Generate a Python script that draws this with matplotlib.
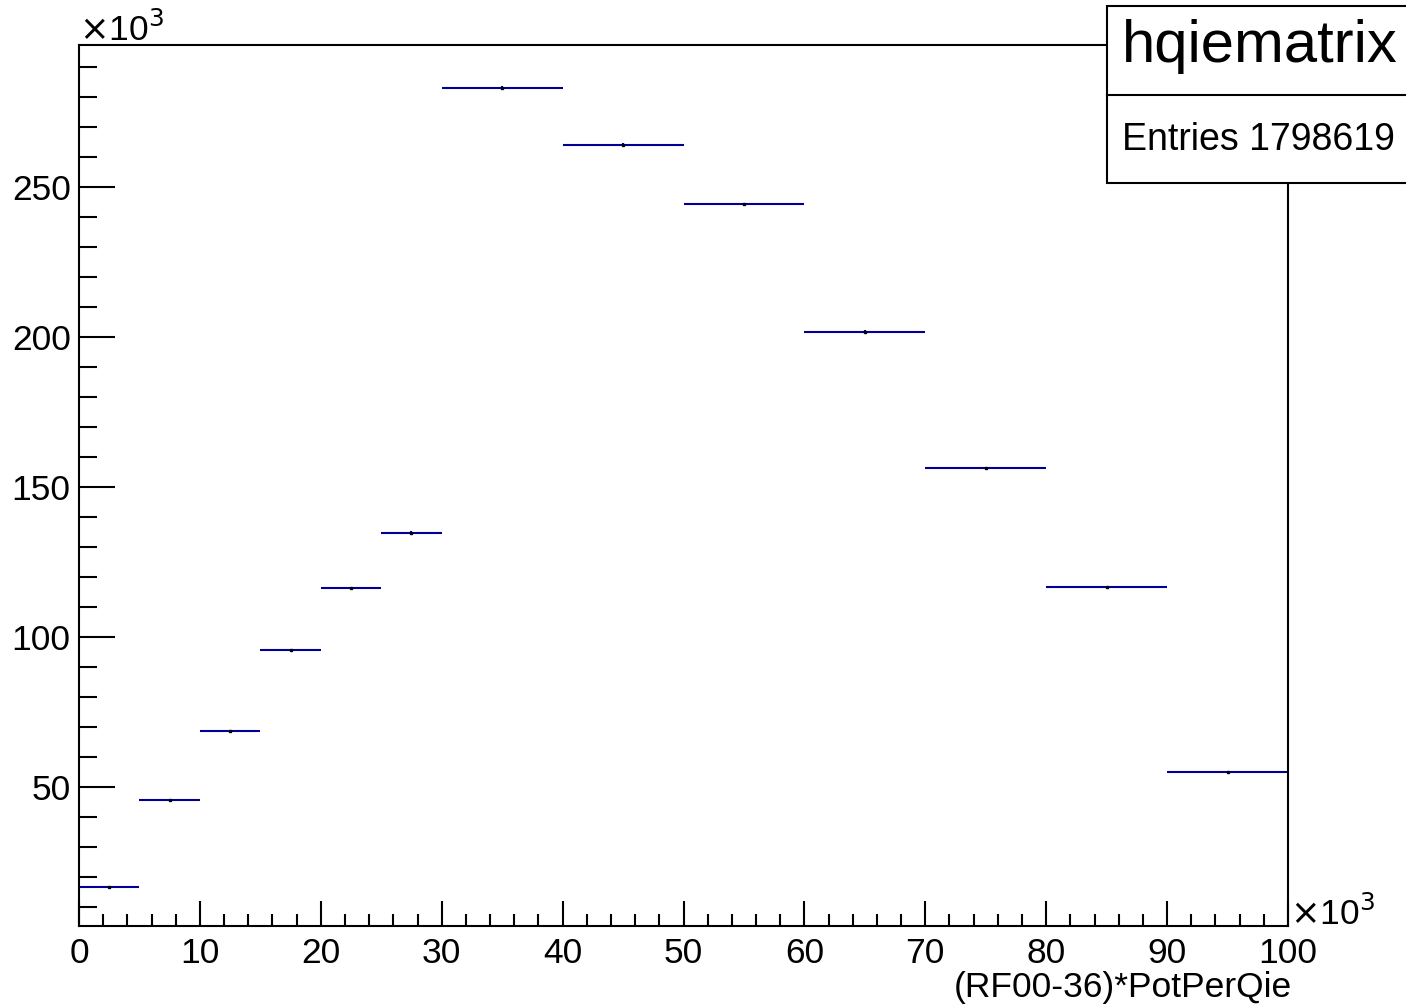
import numpy as np
import matplotlib
matplotlib.use("Agg")
import matplotlib.pyplot as plt
from matplotlib.ticker import MultipleLocator
from matplotlib.patches import Rectangle
from matplotlib.lines import Line2D

plt.rcParams['font.family'] = ['Liberation Sans', 'DejaVu Sans']

# bin edges and contents, both in units of 10^3
bin_edges = [0, 5, 10, 15, 20, 25, 30, 40, 50, 60, 70, 80, 90, 100]
counts = [16.8, 45.8, 68.8, 95.6, 116.2, 134.8, 283.0, 264.0, 244.2, 201.7, 156.3, 116.5, 55.0]
hist_name = "hqiematrix"
entries = 1798619
x_label = "(RF00-36)*PotPerQie"

edges = np.array(bin_edges, dtype=float)
vals = np.array(counts)
centers = (edges[:-1] + edges[1:]) / 2
half_w = (edges[1:] - edges[:-1]) / 2
errs = np.sqrt(vals * 1000) / 1000

W, H = 1406, 1007
fig = plt.figure(figsize=(W / 100, H / 100), dpi=100)
ax = fig.add_axes([79 / W, 1 - 926 / H, (1288 - 79) / W, (926 - 45) / H])

ax.errorbar(centers, vals, xerr=half_w, yerr=errs, fmt='none',
            ecolor='#000099', elinewidth=1.5, capsize=0)
ax.plot(centers, vals, ls='none', marker='s', ms=1.5, color='black')

ax.set_xlim(0, 100)
ax.set_ylim(3.67, 297.3)

ax.xaxis.set_major_locator(MultipleLocator(10))
ax.xaxis.set_minor_locator(MultipleLocator(2))
ax.yaxis.set_major_locator(MultipleLocator(50))
ax.yaxis.set_minor_locator(MultipleLocator(10))

for s in ax.spines.values():
    s.set_linewidth(1.5)
ax.tick_params(axis='both', which='both', direction='in', width=1.5,
               top=False, right=False, labelsize=25.5, colors='black')
ax.tick_params(axis='x', which='major', length=18, pad=8)
ax.tick_params(axis='x', which='minor', length=9)
ax.tick_params(axis='y', which='major', length=26, pad=6)
ax.tick_params(axis='y', which='minor', length=13)

ax.set_xticks(np.arange(0, 101, 10))
ax.set_xticklabels([str(int(v)) for v in np.arange(0, 101, 10)])

fig.text(1292 / W, 1 - 988 / H, x_label, ha='right', va='center', fontsize=25.5)
fig.text(79 / W, 1 - 30 / H, r"$\times$10$^{3}$", ha='left', va='center', fontsize=25.5)
fig.text(1290 / W, 1 - 914 / H, r"$\times$10$^{3}$", ha='left', va='center', fontsize=25.5)
plt.rcParams['mathtext.fontset'] = 'custom'
plt.rcParams['mathtext.rm'] = 'Liberation Sans'

# stats box
box_l, box_t, box_b, box_mid = 1107, 6, 183, 95
fig.patches.append(Rectangle((box_l / W, 1 - box_b / H), (W + 10 - box_l) / W,
                             (box_b - box_t) / H, transform=fig.transFigure,
                             facecolor='white', edgecolor='black', lw=1.5, zorder=5))
fig.lines.append(Line2D([box_l / W, 1], [1 - box_mid / H, 1 - box_mid / H],
                        transform=fig.transFigure, color='black', lw=1.5, zorder=6))
fig.text(1260 / W, 1 - 47 / H, hist_name, ha='center', va='center', fontsize=43, zorder=7)
fig.text(1122 / W, 1 - 140 / H, f"Entries {entries}", ha='left', va='center',
         fontsize=27, zorder=7)

fig.savefig("out.png", dpi=100)
